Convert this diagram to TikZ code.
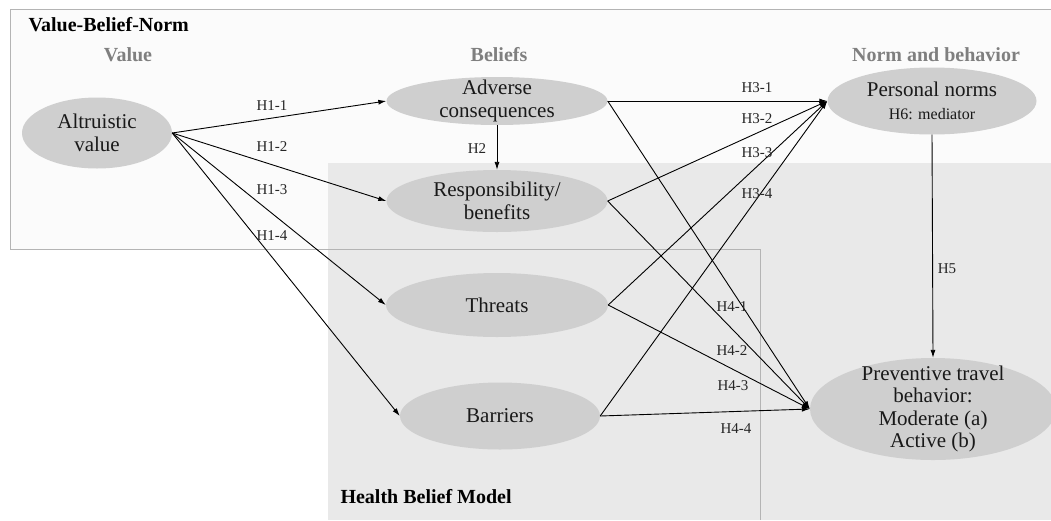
\documentclass[tikz,border=0pt]{standalone}
\usepackage{fontspec}
\setmainfont{Liberation Serif}
\usetikzlibrary{shapes.geometric,arrows.meta}
\definecolor{ellgray}{HTML}{CFCFCF}
\definecolor{boxgray}{HTML}{E9E9E9}
\definecolor{vbnwhite}{HTML}{FBFBFB}
\definecolor{hdgray}{HTML}{7F7F7F}
\definecolor{linegray}{HTML}{B4B4B4}
\begin{document}
\begin{tikzpicture}[x=1pt,y=-1pt,>={Latex[length=8pt,width=5pt]},
    every node/.style={font=\fontsize{15}{17}\selectfont,text=black!85},
    var/.style={ellipse,fill=ellgray,inner sep=0pt},
    vtxt/.style={font=\fontsize{21}{22.5}\selectfont,align=center,text=black!90},
    hdr/.style={font=\bfseries\fontsize{20}{22}\selectfont,text=hdgray},
    model/.style={font=\bfseries\fontsize{20}{22}\selectfont,text=black,anchor=west},
    hyp/.style={->,line width=0.9pt}]
    \useasboundingbox (0,0) rectangle (1051,520);
    \fill[vbnwhite] (10,9) rectangle (1051,249);
    \fill[boxgray] (328,163) rectangle (1051,520);
    \draw[linegray, line width=0.8pt] (1051,9) -- (10,9) -- (10,249) -- (760,249) -- (760,520);
    \node[model] (vbn) at (25,25) {Value-Belief-Norm};
    \node[model] (hbm) at (337,497) {Health Belief Model};
    \node[hdr] (hval) at (128,55) {Value};
    \node[hdr] (hbel) at (499,55) {Beliefs};
    \node[hdr] (hnb) at (936,55) {Norm and behavior};
    \node[var, minimum width=150pt, minimum height=71pt, label={[vtxt]center:{Altruistic\\value}}] (alt) at (97,133) {};
    \node[var, minimum width=221pt, minimum height=48pt, label={[vtxt]center:{Adverse\\consequences}}] (adv) at (497,101) {};
    \node[var, minimum width=221pt, minimum height=62pt, label={[vtxt]center:{Responsibility/\\benefits}}] (resp) at (497,201) {};
    \node[var, minimum width=222pt, minimum height=64pt, label={[vtxt]center:{Threats}}] (thr) at (497,305) {};
    \node[var, minimum width=200pt, minimum height=67pt, label={[vtxt]center:{Barriers}}] (bar) at (500,416) {};
    \node[var, minimum width=209pt, minimum height=67pt, label={[vtxt]center:{Personal norms\\{\fontsize{16}{18}\selectfont H6: mediator}}}] (pn) at (932,101) {};
    \node[var, minimum width=246pt, minimum height=102pt, label={[vtxt]center:{Preventive travel\\behavior:\\Moderate (a)\\Active (b)}}] (ptb) at (933,409) {};
    \foreach \b in {adv,resp,thr,bar} {
        \draw[hyp] (alt.east) -- (\b.west);
        \draw[hyp] (\b.east) -- (pn.west);
        \draw[hyp] (\b.east) -- (ptb.west);
      }
    \draw[hyp] (adv.south) -- (resp.north);
    \draw[hyp] (pn.south) -- (ptb.north);
    \foreach \t/\x/\y in {H1-1/272/106, H1-2/272/147, H1-3/272/190, H1-4/272/236, H2/477/149,
        H3-1/757/88, H3-2/757/119, H3-3/757/153, H3-4/757/194,
        H4-1/732/307, H4-2/732/351, H4-3/733/386, H4-4/736/429, H5/947/269} {
        \node (l\t) at (\x,\y) {\t};
      }
  \end{tikzpicture}
\end{document}
